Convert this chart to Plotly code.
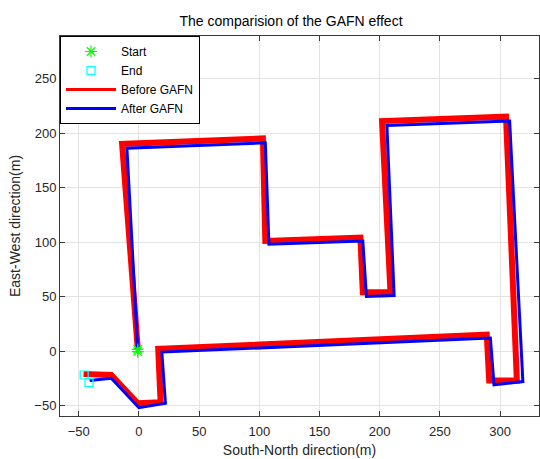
import plotly.graph_objects as go

# Trajectory vertices (metres)
before_x = [-1, -14, 103, 105, 184, 186, 209, 202, 305, 314, 291, 289, 16, 18, -1, -23, -46]
before_y = [2, 190, 195, 101, 104, 54, 54, 211, 215, -27, -27, 15, 2, -47, -48, -22, -21]

after_x = [-1, -10, 105, 108, 186, 189, 212, 206, 308, 319, 295, 292, 19, 22, 0, -23, -41]
after_y = [0, 186, 191, 98, 101, 50, 51, 207, 211, -28, -31, 12, -1, -48, -52, -25, -27]

start_x = [-1, -1]
start_y = [-0.6, 1.5]
end_x = [-45.5, -41.5]
end_y = [-22, -29]

x_ticks = [-50, 0, 50, 100, 150, 200, 250, 300]
y_ticks = [-50, 0, 50, 100, 150, 200, 250]

fig = go.Figure()
fig.add_trace(go.Scatter(x=before_x, y=before_y, mode="lines", name="Before GAFN",
                         line=dict(color="#ff0000", width=6), showlegend=False))
fig.add_trace(go.Scatter(x=after_x, y=after_y, mode="lines", name="After GAFN",
                         line=dict(color="#0000ff", width=3), showlegend=False))
fig.add_trace(go.Scatter(x=start_x, y=start_y, mode="markers", name="Start",
                         marker=dict(symbol="asterisk-open", size=10, color="#00ff00",
                                     line=dict(color="#00ff00", width=1.2)), legendrank=1))
fig.add_trace(go.Scatter(x=end_x, y=end_y, mode="markers", name="End",
                         marker=dict(symbol="square-open", size=8, color="#00ffff",
                                     line=dict(color="#00ffff", width=1.2)), legendrank=2))
# legend samples (thin lines as in the reference legend)
fig.add_trace(go.Scatter(x=[None], y=[None], mode="lines", name="Before GAFN",
                         line=dict(color="#ff0000", width=3), legendrank=3))
fig.add_trace(go.Scatter(x=[None], y=[None], mode="lines", name="After GAFN",
                         line=dict(color="#0000ff", width=3), legendrank=4))

axis_common = dict(
    showgrid=True, gridcolor="#e3e3e3", gridwidth=1,
    showline=True, linecolor="#3a3a3a", linewidth=1, mirror="ticks",
    ticks="inside", ticklen=5, tickcolor="#3a3a3a",
    zeroline=False, automargin=False,
    tickfont=dict(family="Liberation Sans, Arial", size=13, color="#262626"),
)

fig.update_layout(
    width=540, height=459,
    margin=dict(l=60, r=1, t=36, b=43),
    paper_bgcolor="white", plot_bgcolor="white",
    title=dict(text="The comparision of the GAFN effect", x=291/540, xref="container",
               xanchor="center", y=1 - 21/459, yref="container", yanchor="middle",
               font=dict(family="Liberation Sans, Arial", size=14, color="#000000")),
    xaxis=dict(range=[-65.6, 332.4], tickvals=x_ticks, ticklabelstandoff=3,
               title=dict(text="South-North direction(m)", standoff=7,
                          font=dict(family="Liberation Sans, Arial", size=14, color="#262626")),
               **axis_common),
    yaxis=dict(range=[-59.6, 289], tickvals=y_ticks,
               title=dict(text="East-West direction(m)", standoff=10,
                          font=dict(family="Liberation Sans, Arial", size=14, color="#262626")),
               **axis_common),
    legend=dict(x=0, y=1, xanchor="left", yanchor="top", bgcolor="white",
                bordercolor="#000000", borderwidth=1, itemwidth=50,
                font=dict(family="Liberation Sans, Arial", size=12, color="#000000"),
                tracegroupgap=0),
    showlegend=True,
)

fig.write_html("out.html", config={"displayModeBar": False},
               post_script="document.body.style.margin='0';")
